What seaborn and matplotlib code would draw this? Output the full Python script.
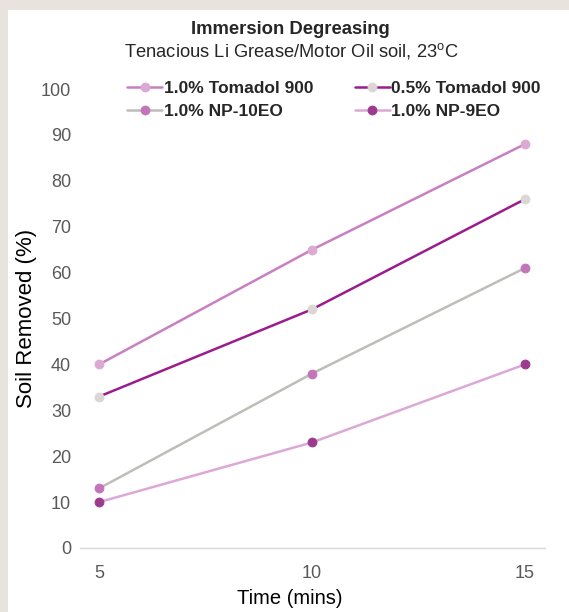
import pandas as pd
import matplotlib
matplotlib.use("Agg")
import matplotlib.pyplot as plt
import seaborn as sns

# data
times = [5, 10, 15]
tomadol_10 = [40, 65, 88]
tomadol_05 = [33, 52, 76]
np10eo = [13, 38, 61]
np9eo = [10, 23, 40]
labels = ["1.0% Tomadol 900", "0.5% Tomadol 900", "1.0% NP-10EO", "1.0% NP-9EO"]

line_colors = ["#c880c0", "#9b1c8d", "#bfbdb8", "#dca8d6"]
marker_colors = ["#dca8d4", "#dad7d4", "#c275b9", "#9c3a8e"]

df = pd.DataFrame({
    "Time": times * 4,
    "Removed": tomadol_10 + tomadol_05 + np10eo + np9eo,
    "Series": [lab for lab in labels for _ in times],
})

sns.set_style("white")
plt.rcParams["font.family"] = ["Liberation Sans", "DejaVu Sans"]
plt.rcParams["mathtext.fontset"] = "custom"
plt.rcParams["mathtext.rm"] = "Liberation Sans"

fig = plt.figure(figsize=(5.69, 6.12), dpi=100)
fig.patch.set_facecolor("#e8e4dd")
# white panel inside the beige border
panel = fig.add_axes([8 / 569, 0, 1 - 8 / 569, 1 - 10 / 612])
panel.set_facecolor("white")
panel.set_xticks([])
panel.set_yticks([])
for s in panel.spines.values():
    s.set_visible(False)

ax = fig.add_axes([80 / 569, 1 - 548 / 612, 465 / 569, 459 / 612])
ax.set_facecolor("none")

handles = []
for i, lab in enumerate(labels):
    sub = df[df["Series"] == lab]
    sns.lineplot(data=sub, x="Time", y="Removed", ax=ax, color=line_colors[i],
                 linewidth=1.8, marker="o", markersize=6.3,
                 markerfacecolor=marker_colors[i], markeredgecolor=marker_colors[i],
                 label=lab)
    handles.append(ax.lines[-1])

ax.get_legend().remove()
ax.set_xlim(4.55, 15.47)
ax.set_ylim(0, 100)
ax.set_xticks([5, 10, 15])
ax.set_yticks(range(0, 101, 10))
ax.tick_params(axis="both", labelsize=13, labelcolor="#595959", length=0)
ax.tick_params(axis="x", pad=12)
ax.tick_params(axis="y", pad=6.5)
for side in ["top", "right", "left"]:
    ax.spines[side].set_visible(False)
ax.spines["bottom"].set_color("#d9d9d9")
ax.spines["bottom"].set_linewidth(1.0)
ax.set_xlabel("Time (mins)", fontsize=14.5, color="black")
ax.set_ylabel("Soil Removed (%)", fontsize=16, color="black")
ax.xaxis.set_label_coords((290 - 80) / 465, -(598 - 548) / 459)
ax.yaxis.set_label_coords(-(80 - 27) / 465, 0.5)
ax.xaxis.label.set_va("center")
ax.yaxis.label.set_va("center")

fig.text(290 / 569, 1 - 30 / 612, "Immersion Degreasing", ha="center", va="center",
         fontsize=13.3, fontweight="bold")
fig.text(291 / 569, 1 - 51 / 612, "Tenacious Li Grease/Motor Oil soil, 23$^\\mathrm{o}$C",
         ha="center", va="center", fontsize=13.2)

order = [0, 2, 1, 3]
fig.legend([handles[k] for k in order], [labels[k] for k in order],
           ncol=2, frameon=False, loc="center", bbox_to_anchor=(334 / 569, 1 - 100 / 612),
           prop={"weight": "bold", "size": 12.5}, handlelength=2.0,
           handletextpad=0.1, columnspacing=2.4, labelspacing=0.5,
           borderpad=0, borderaxespad=0)

fig.savefig("out.png", dpi=100)
